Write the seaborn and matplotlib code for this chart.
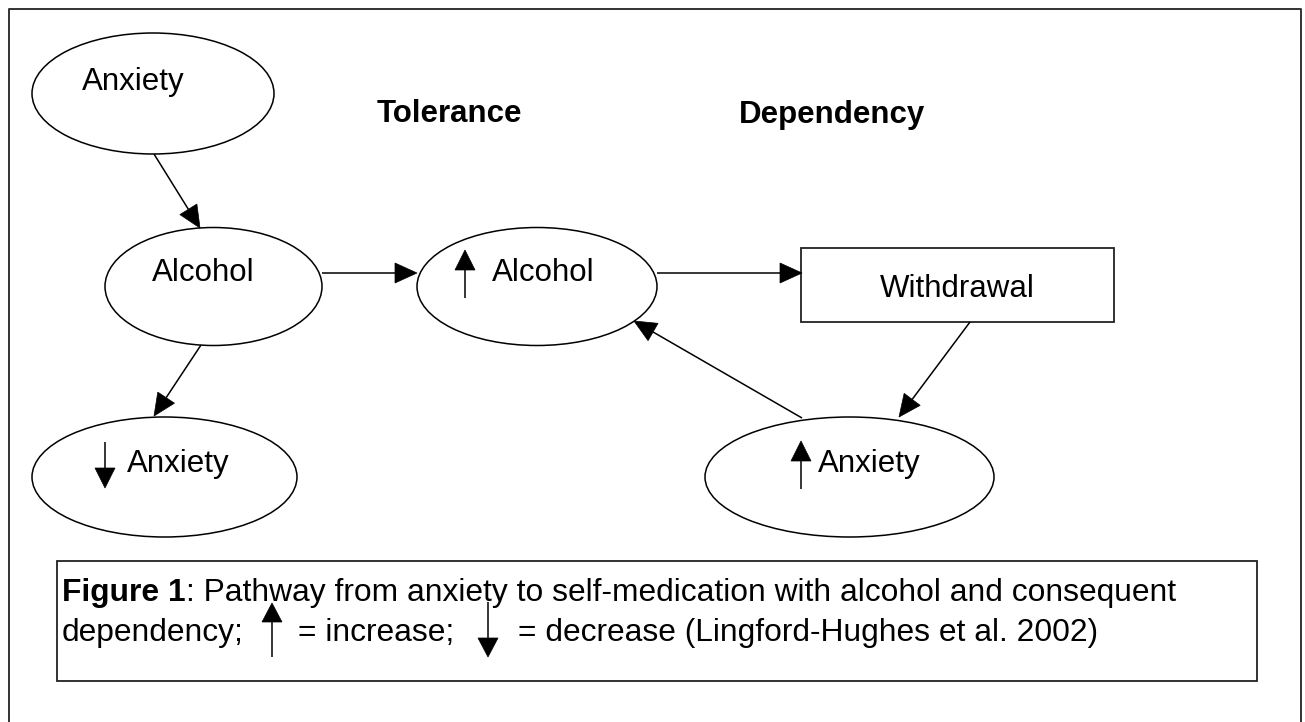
import numpy as np
import matplotlib
matplotlib.use("Agg")
import matplotlib.pyplot as plt
import seaborn as sns
from matplotlib.patches import Ellipse, Rectangle, Polygon

# Diagram content
node_labels = ["Anxiety", "Alcohol", "Alcohol", "Anxiety", "Anxiety"]
node_marks = ["", "", "up", "down", "up"]
box_label = "Withdrawal"
stage_titles = ["Tolerance", "Dependency"]
caption_bold = "Figure 1"
caption_line1 = ": Pathway from anxiety to self-medication with alcohol and consequent"
caption_line2 = ["dependency;", "= increase;", "= decrease (Lingford-Hughes et al. 2002)"]

sns.set_theme(style="white")
plt.rcParams['font.family'] = ['Liberation Sans', 'DejaVu Sans']
plt.rcParams['text.color'] = 'black'

# layout in pixels (y grows downward)
node_xy = [(153, 93.5), (213.5, 286.5), (537, 286.5), (164.5, 477), (849.5, 477)]
node_wh = [(242, 121), (217, 118), (240, 118), (265, 120), (289, 120)]
label_xy = [(82, 90), (152, 281), (492, 281), (127, 472), (818, 472)]
mark_x = [None, None, 465, 105, 801]
edges = [((154, 154), (200, 228)),
         ((322, 273), (417, 273)),
         ((201, 345), (154, 416)),
         ((657, 273), (802, 273)),
         ((970, 322), (899, 417)),
         ((802, 418), (634, 321))]

LW = 1.1
FS = 22.5
FS_CAP = 22.9


def arrow(ax, p0, p1, hl=22, hw=10):
    p0 = np.array(p0, float)
    p1 = np.array(p1, float)
    d = p1 - p0
    d = d / np.hypot(*d)
    n = np.array([-d[1], d[0]])
    base = p1 - d * hl
    ax.plot([p0[0], base[0]], [p0[1], base[1]], color='black', lw=LW,
            solid_capstyle='butt')
    ax.add_patch(Polygon([p1, base + n * hw, base - n * hw], closed=True,
                         facecolor='black', edgecolor='black', lw=0.5))


fig = plt.figure(figsize=(13.05, 7.22), dpi=100)
ax = fig.add_axes([0, 0, 1, 1])
ax.set_xlim(0, 1305)
ax.set_ylim(722, 0)
ax.axis('off')

# outer frame (bottom edge runs off the picture)
ax.plot([9, 9, 1301, 1301], [730, 9, 9, 730], color='#333333', lw=1.4)

for (cx, cy), (w, h), lab, (tx, ty), mk, mx in zip(node_xy, node_wh, node_labels,
                                                    label_xy, node_marks, mark_x):
    ax.add_patch(Ellipse((cx, cy), w, h, facecolor='white', edgecolor='black', lw=LW))
    ax.text(tx, ty, lab, fontsize=FS, ha='left', va='baseline', color='black')
    if mk == "up":
        arrow(ax, (mx, ty + 17), (mx, ty - 31), hl=20, hw=10)
    elif mk == "down":
        arrow(ax, (mx, ty - 30), (mx, ty + 16), hl=20, hw=10)

ax.add_patch(Rectangle((801, 248), 313, 74, facecolor='white', edgecolor='#222222', lw=1.3))
ax.text(957, 297, box_label, fontsize=FS, ha='center', va='baseline', color='black')

ax.text(377, 122, stage_titles[0], fontsize=FS, fontweight='bold', va='baseline', color='black')
ax.text(739, 123, stage_titles[1], fontsize=FS, fontweight='bold', va='baseline', color='black')

for p0, p1 in edges:
    arrow(ax, p0, p1)

# caption box
ax.add_patch(Rectangle((57, 561), 1200, 120, facecolor='white', edgecolor='#222222', lw=1.3))
renderer = fig.canvas.get_renderer()
t = ax.text(62, 601, caption_bold, fontsize=FS_CAP, fontweight='bold', va='baseline', color='black')
bb = t.get_window_extent(renderer)
ax.text(bb.x1, 601, caption_line1, fontsize=FS_CAP, va='baseline', color='black')

ax.text(62, 641, caption_line2[0], fontsize=FS_CAP, va='baseline', color='black')
arrow(ax, (272, 657), (272, 603), hl=19, hw=10)
ax.text(298, 641, caption_line2[1], fontsize=FS_CAP, va='baseline', color='black')
arrow(ax, (488, 602), (488, 657), hl=19, hw=10)
ax.text(518, 641, caption_line2[2], fontsize=FS_CAP, va='baseline', color='black')

fig.savefig("out.png", dpi=100, facecolor='white')
